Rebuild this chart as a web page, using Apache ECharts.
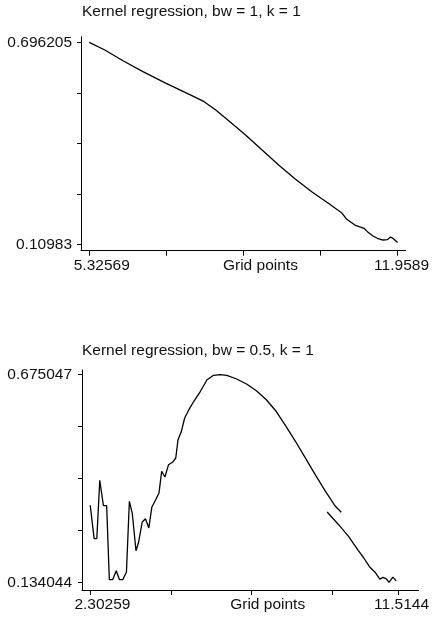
<!DOCTYPE html>
<html>
<head>
<meta charset="utf-8">
<script src="https://cdn.jsdelivr.net/npm/echarts@6/dist/echarts.min.js"></script>
<style>
html,body{margin:0;padding:0;background:#fff;}
#chart{width:432px;height:619px;}
</style>
</head>
<body>
<div id="chart"></div>
<script>
// ---- Data ----
const titleTop = 'Kernel regression, bw = 1, k = 1';
const titleBottom = 'Kernel regression, bw = 0.5, k = 1';
const xAxisName = 'Grid points';

// Top panel: bw = 1
const topX = [5.32569, 5.661, 6.052, 6.480, 6.980, 7.478, 7.798, 8.048, 8.332, 8.689, 9.044, 9.401, 9.757, 10.112, 10.469, 10.754, 10.860, 11.040, 11.239, 11.310, 11.431, 11.524, 11.645, 11.737, 11.809, 11.858, 11.9589];
const topY = [0.696205, 0.6738, 0.6428, 0.6109, 0.5772, 0.5452, 0.5238, 0.4997, 0.4677, 0.4271, 0.3836, 0.3400, 0.2994, 0.2626, 0.2288, 0.2016, 0.1833, 0.1658, 0.1562, 0.1465, 0.1339, 0.1273, 0.1223, 0.1232, 0.1310, 0.1272, 0.1150];
const topXTicks = [5.32569, 6.984, 8.6423, 10.3006, 11.9589];
const topXTickLabels = ['5.32569', xAxisName, '11.9589'];
const topYTicks = [0.10983, 0.256424, 0.403018, 0.549611, 0.696205];
const topYTickLabels = ['0.10983', '0.696205'];

// Bottom panel: bw = 0.5, first segment
const botX1 = [2.312, 2.429, 2.509, 2.597, 2.706, 2.803, 2.883, 2.980, 3.089, 3.186, 3.284, 3.393, 3.481, 3.569, 3.678, 3.755, 3.864, 3.961, 4.061, 4.150, 4.267, 4.365, 4.444, 4.541, 4.650, 4.768, 4.865, 4.933, 5.033, 5.131, 5.257, 5.405, 5.602, 5.799, 5.994, 6.191, 6.388, 6.683, 6.978, 7.272, 7.567, 7.861, 8.156, 8.450, 8.745, 9.040, 9.334, 9.629, 9.805];
const botY1 = [0.3354, 0.2485, 0.2485, 0.4005, 0.3343, 0.3343, 0.1418, 0.1418, 0.1653, 0.1418, 0.1418, 0.1619, 0.3458, 0.3135, 0.2173, 0.2391, 0.2919, 0.3005, 0.2763, 0.3302, 0.3499, 0.3674, 0.4238, 0.4090, 0.4410, 0.4472, 0.4584, 0.5060, 0.5278, 0.5624, 0.5840, 0.6059, 0.6319, 0.6620, 0.6735, 0.675047, 0.6735, 0.6639, 0.6509, 0.6334, 0.6100, 0.5799, 0.5408, 0.4999, 0.4566, 0.4134, 0.3718, 0.3328, 0.3172];
// Bottom panel: second segment
const botX2 = [9.382, 9.726, 10.021, 10.315, 10.463, 10.660, 10.807, 10.955, 11.052, 11.150, 11.229, 11.347, 11.444];
const botY2 = [0.3180, 0.2849, 0.2547, 0.2173, 0.2002, 0.1741, 0.1619, 0.1433, 0.1478, 0.1441, 0.1347, 0.1485, 0.1389];
const botXTicks = [2.30259, 4.71667, 7.13075, 9.54482, 11.5144];
const botXTickLabels = ['2.30259', xAxisName, '11.5144'];
const botYTicks = [0.134044, 0.269295, 0.404546, 0.539796, 0.675047];
const botYTickLabels = ['0.134044', '0.675047'];

// ---- Chart ----
const FONT = '"Liberation Sans", Arial, Helvetica, sans-serif';
const TXT = '#111';
const FS = 15.5;
function pairs(xs, ys){ return xs.map((x,i)=>[x, ys[i]]); }
function nearestIdx(arr, v){ let b=0; for(let i=1;i<arr.length;i++) if(Math.abs(arr[i]-v)<Math.abs(arr[b]-v)) b=i; return b; }

function xAxisFor(gridIndex, ticks, labels, min, max, shifts){
  const lv = [ticks[0], ticks[2], ticks[4]];
  const keys = ['a','b','c'];
  const rich = {};
  keys.forEach((k,i)=>{ rich[k] = {fontSize:FS, fontFamily:FONT, color:TXT, padding:[0,0,0,shifts[i]]}; });
  return {
    type: 'value', gridIndex, min, max,
    splitLine: {show:false},
    axisLine: {lineStyle:{color:'#000', width:1}},
    axisTick: {length:5, lineStyle:{color:'#000'}, customValues: ticks},
    axisLabel: {
      customValues: lv, margin: 7, color: TXT, fontSize: FS, fontFamily: FONT,
      formatter: function(v){ const i = nearestIdx(lv, v); return '{'+keys[i]+'|'+labels[i]+'}'; },
      rich: rich
    }
  };
}
function yAxisFor(gridIndex, ticks, labels, min, max, margin){
  const lv = [ticks[0], ticks[4]];
  return {
    type: 'value', gridIndex, min, max,
    splitLine: {show:false},
    axisLine: {show:true, lineStyle:{color:'#000', width:1}},
    axisTick: {show:true, length:4, lineStyle:{color:'#000'}, customValues: ticks},
    axisLabel: {
      customValues: lv, margin: margin, color: TXT, fontSize: FS, fontFamily: FONT,
      formatter: function(v){ return labels[nearestIdx(lv, v)]; }
    }
  };
}

const chart = echarts.init(document.getElementById('chart'), null, {renderer:'canvas'});
chart.setOption({
  animation: false,
  backgroundColor: '#fff',
  title: [
    {text: titleTop, left: 82, top: 4, padding: 0, textStyle:{fontSize:FS, fontWeight:'normal', fontFamily:FONT, color:TXT}},
    {text: titleBottom, left: 82, top: 343, padding: 0, textStyle:{fontSize:FS, fontWeight:'normal', fontFamily:FONT, color:TXT}}
  ],
  grid: [
    {left: 81, top: 36.7, width: 326.7, height: 214, containLabel: false},
    {left: 82, top: 370, width: 341, height: 220, containLabel: false}
  ],
  xAxis: [
    xAxisFor(0, topXTicks, topXTickLabels, 5.1483, 12.1299, [25, 34, 8]),
    xAxisFor(1, botXTicks, botXTickLabels, 2.0669, 12.1124, [25, 32, 6])
  ],
  yAxis: [
    yAxisFor(0, topYTicks, topYTickLabels, 0.09125, 0.71246, 9),
    yAxisFor(1, botYTicks, botYTickLabels, 0.11506, 0.68727, 10)
  ],
  series: [
    {type:'line', xAxisIndex:0, yAxisIndex:0, data: pairs(topX, topY), showSymbol:false, lineStyle:{color:'#000', width:1.3}},
    {type:'line', xAxisIndex:1, yAxisIndex:1, data: pairs(botX1, botY1), showSymbol:false, lineStyle:{color:'#000', width:1.3}},
    {type:'line', xAxisIndex:1, yAxisIndex:1, data: pairs(botX2, botY2), showSymbol:false, lineStyle:{color:'#000', width:1.3}}
  ]
});
</script>
</body>
</html>
